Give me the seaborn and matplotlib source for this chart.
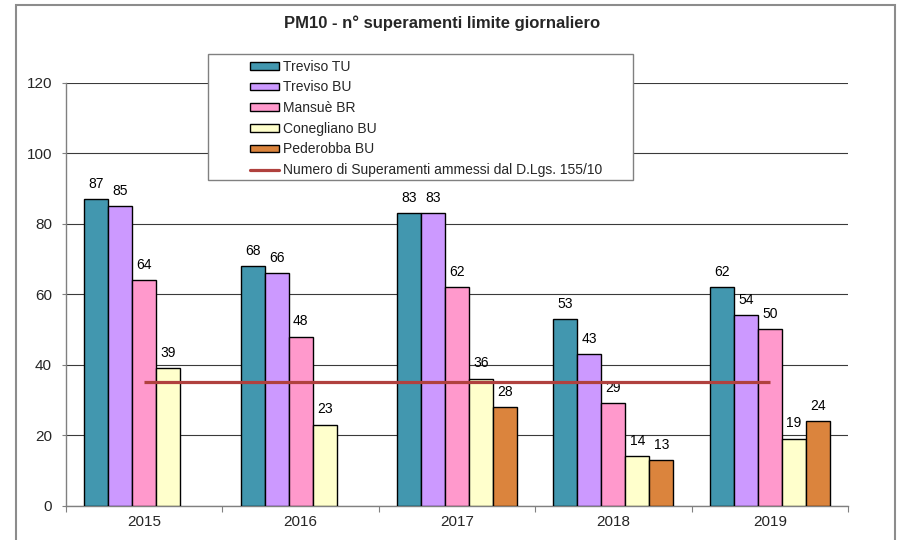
import numpy as np
import pandas as pd
import matplotlib
matplotlib.use("Agg")
import matplotlib.pyplot as plt
from matplotlib.patches import Rectangle, Patch
from matplotlib.lines import Line2D
import seaborn as sns

# ---- data ----
years = ["2015", "2016", "2017", "2018", "2019"]
series = ["Treviso TU", "Treviso BU", "Mansuè BR", "Conegliano BU", "Pederobba BU"]
treviso_tu = [87, 68, 83, 53, 62]
treviso_bu = [85, 66, 83, 43, 54]
mansue_br = [64, 48, 62, 29, 50]
conegliano_bu = [39, 23, 36, 14, 19]
pederobba_bu = [np.nan, np.nan, 28, 13, 24]
limit_label = "Numero di Superamenti ammessi dal D.Lgs. 155/10"
limit_values = [35, 35, 35, 35, 35]
title = "PM10 - n° superamenti limite giornaliero"
yticks = [0, 20, 40, 60, 80, 100, 120]

colors = ["#4297AF", "#CC99FF", "#FF99CC", "#FFFFCC", "#DB843D"]
line_color = "#B0413E"

rows = []
for name, vals in zip(series, [treviso_tu, treviso_bu, mansue_br, conegliano_bu, pederobba_bu]):
    for y, v in zip(years, vals):
        rows.append({"Anno": y, "Stazione": name, "Valore": v})
df = pd.DataFrame(rows).dropna()

sns.set_theme(style="white")
plt.rcParams["font.family"] = ["Liberation Sans", "DejaVu Sans"]

fig = plt.figure(figsize=(8.97, 5.4), dpi=100)
fig.patch.set_facecolor("white")
ax = fig.add_axes([66 / 897, 1 - 505.7 / 540, (848 - 66) / 897, (505.7 - 82.7) / 540])

sns.barplot(data=df, x="Anno", y="Valore", hue="Stazione", order=years,
            hue_order=series, palette=colors, saturation=1, width=0.767, gap=0,
            edgecolor="black", linewidth=1, ax=ax, legend=False, zorder=3)

# limit line across categories
ax.plot(range(len(years)), limit_values, color=line_color, lw=2.3, zorder=4,
        solid_capstyle="butt")

for cont in ax.containers:
    ax.bar_label(cont, fmt="%g", padding=6, fontsize=10, color="black")

ax.set_ylim(0, 120)
ax.set_xlim(-0.5, len(years) - 0.5)
ax.set_yticks(yticks)
ax.set_yticklabels([str(t) for t in yticks])
ax.set_xlabel("")
ax.set_ylabel("")
ax.yaxis.grid(True, color="#3a3a3a", lw=0.8, zorder=0)
ax.xaxis.grid(False)
ax.set_axisbelow(True)
for s in ["top", "right"]:
    ax.spines[s].set_visible(False)
for s in ["left", "bottom"]:
    ax.spines[s].set_color("#808080")
    ax.spines[s].set_linewidth(1)
ax.tick_params(axis="y", which="major", length=3, width=0.8, color="#808080",
               direction="out", pad=7, labelsize=11, left=True)
ax.tick_params(axis="x", which="major", length=0, pad=7, labelsize=11)
ax.set_xticks(np.arange(-0.5, len(years), 1.0), minor=True)
ax.tick_params(axis="x", which="minor", length=4, width=0.8, color="#808080",
               direction="out", bottom=True)
ax.set_facecolor("white")

# title
fig.text(0.4933, 1 - 23 / 540, title, ha="center", va="center",
         fontsize=12, fontweight="bold")

# legend frame
fig.patches.append(Rectangle((208 / 897, 1 - 180 / 540), 425 / 897, 126 / 540,
                             transform=fig.transFigure, facecolor="white",
                             edgecolor="#808080", lw=1, zorder=2))
handles = [Patch(facecolor=c, edgecolor="black", lw=1) for c in colors]
handles.append(Line2D([0], [0], color=line_color, lw=2.3))
labels = series + [limit_label]
leg = fig.legend(handles, labels, loc="upper left",
                 bbox_to_anchor=(240 / 897, 1 - 50 / 540), frameon=False,
                 fontsize=10, handlelength=2.1, handleheight=0.5,
                 handletextpad=0.3, labelspacing=0.48, borderpad=0.2)
leg.set_zorder(5)

# outer border
fig.patches.append(Rectangle((16 / 897, -0.05), (895 - 16) / 897, 1.05 - 5 / 540,
                             transform=fig.transFigure, facecolor="none",
                             edgecolor="#8c8c8c", lw=1.5, zorder=10))

fig.savefig("out.png", dpi=100)
